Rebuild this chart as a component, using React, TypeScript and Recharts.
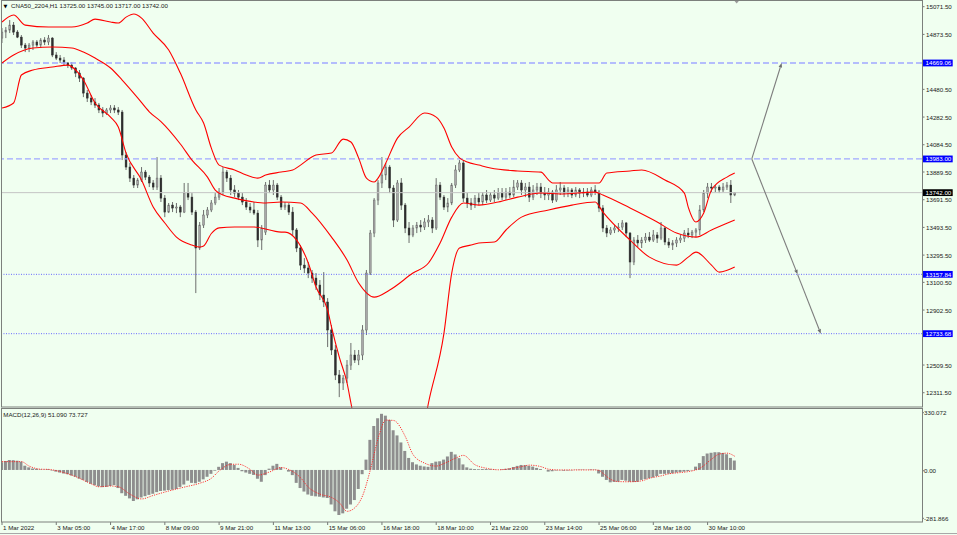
import React from 'react';
import { ComposedChart, Bar, Line, XAxis, YAxis, ReferenceLine, ReferenceDot } from 'recharts';

const FONT = '"Liberation Sans", Arial, Helvetica, sans-serif';
const FS = 6.2;
const TXT = '#1a1a1a';
const BG = '#f0fff0';
const FRAME = '#7c807c';

const X_MAX = 237.3;
const PRICE_MIN = 12202.2;
const PRICE_MAX = 15112.25;
const MACD_MIN = -281.866;
const MACD_MAX = 330.072;

const symbolTitle = 'CNA50_2204,H1 13725.00 13745.00 13717.00 13742.00';
const macdTitle = 'MACD(12,26,9) 51.090 73.727';

const opens = [
  14847,14890,14904,14940,14890,14854,14797,14776,14797,14819,
  14797,14833,14819,14847,14726,14704,14690,14669,14654,14633,
  14597,14561,14454,14418,14390,14368,14333,14311,14333,14347,
  14333,14318,14011,13925,13846,13796,13832,13889,13853,13811,
  13782,13846,13703,13603,13653,13632,13639,13603,13739,13710,
  13603,13346,13510,13582,13618,13668,13710,13746,13889,13846,
  13761,13739,13710,13675,13639,13618,13596,13403,13460,13796,
  13761,13796,13710,13639,13653,13603,13475,13346,13224,13203,
  13167,13131,13081,13010,12960,12760,12617,12438,12381,12416,
  12509,12581,12545,12581,12760,13167,13453,13689,13811,13868,
  13925,13775,13546,13811,13653,13489,13439,13489,13510,13496,
  13532,13546,13489,13796,13710,13639,13668,13796,13904,13954,
  13703,13668,13653,13703,13675,13725,13689,13725,13703,13739,
  13710,13746,13725,13782,13811,13761,13782,13710,13761,13782,
  13739,13725,13746,13689,13761,13775,13739,13761,13725,13761,
  13739,13746,13725,13761,13746,13632,13489,13453,13475,13489,
  13496,13525,13453,13246,13403,13382,13403,13424,13403,13439,
  13417,13489,13389,13367,13382,13403,13417,13453,13439,13460,
  13475,13618,13739,13782,13775,13782,13761,13782,13796,13725,
];
const highs = [
  14919,14926,14976,14962,14904,14869,14812,14812,14833,14833,
  14847,14854,14869,14854,14747,14726,14711,14676,14676,14640,
  14619,14568,14476,14440,14418,14383,14354,14347,14368,14368,
  14354,14333,14032,13954,13868,13846,13925,13904,13868,13832,
  13996,13868,13725,13668,13675,13668,13653,13811,13811,13739,
  13618,13532,13618,13639,13689,13739,13775,13925,13904,13868,
  13796,13761,13739,13703,13668,13675,13618,13510,13818,13832,
  13832,13811,13725,13675,13668,13639,13489,13367,13274,13246,
  13189,13167,13117,13174,12988,12795,12652,12474,12438,12545,
  12667,12617,12617,12795,13189,13475,13703,13832,13996,13954,
  13939,13796,13832,13846,13668,13532,13510,13532,13546,13560,
  13582,13567,13846,13818,13725,13703,13811,13939,13975,13975,
  13739,13703,13725,13739,13746,13761,13746,13761,13775,13775,
  13775,13782,13832,13832,13832,13811,13818,13796,13811,13811,
  13782,13775,13761,13796,13818,13796,13782,13775,13782,13775,
  13775,13775,13782,13796,13761,13653,13510,13496,13510,13525,
  13546,13532,13460,13424,13439,13424,13453,13460,13475,13460,
  13532,13496,13417,13403,13424,13439,13475,13489,13475,13489,
  13653,13761,13811,13811,13796,13796,13811,13818,13832,13745,
];
const lows = [
  14812,14847,14883,14869,14847,14776,14747,14747,14762,14783,
  14776,14797,14797,14711,14690,14669,14654,14633,14619,14568,
  14533,14425,14390,14368,14347,14311,14282,14297,14311,14311,
  14297,13975,13904,13818,13775,13775,13818,13832,13782,13761,
  13761,13675,13567,13596,13603,13596,13567,13596,13689,13582,
  13024,13332,13489,13560,13603,13653,13689,13725,13818,13725,
  13710,13689,13653,13618,13596,13582,13353,13332,13439,13739,
  13725,13689,13618,13618,13582,13439,13317,13189,13167,13131,
  13096,13046,12974,12924,12638,12581,12402,12280,12331,12381,
  12474,12524,12509,12545,12724,13153,13424,13653,13775,13832,
  13739,13496,13532,13618,13453,13382,13424,13453,13460,13475,
  13496,13453,13475,13689,13618,13603,13653,13775,13889,13675,
  13632,13618,13632,13653,13653,13668,13675,13675,13689,13689,
  13689,13703,13710,13761,13725,13710,13675,13689,13725,13703,
  13689,13689,13668,13675,13725,13710,13710,13703,13710,13703,
  13710,13710,13710,13725,13603,13460,13424,13439,13453,13460,
  13475,13424,13131,13224,13353,13346,13382,13389,13389,13382,
  13403,13367,13346,13332,13353,13382,13389,13417,13417,13424,
  13439,13603,13703,13746,13746,13739,13746,13761,13668,13717,
];
const closes = [
  14890,14904,14940,14890,14854,14797,14776,14797,14819,14797,
  14833,14819,14847,14726,14704,14690,14669,14654,14633,14597,
  14561,14454,14418,14390,14368,14333,14311,14333,14347,14333,
  14318,14011,13925,13846,13796,13832,13889,13853,13811,13782,
  13846,13703,13603,13653,13632,13639,13603,13739,13710,13603,
  13346,13510,13582,13618,13668,13710,13746,13889,13846,13761,
  13739,13710,13675,13639,13618,13596,13403,13489,13796,13761,
  13796,13710,13639,13653,13603,13475,13346,13224,13203,13167,
  13131,13081,13010,12960,12760,12617,12438,12381,12416,12509,
  12581,12545,12581,12760,13167,13453,13689,13811,13868,13925,
  13775,13546,13811,13653,13489,13439,13489,13510,13496,13532,
  13546,13489,13796,13710,13639,13668,13796,13904,13954,13703,
  13668,13653,13703,13675,13725,13689,13725,13703,13739,13710,
  13746,13725,13782,13811,13761,13782,13710,13761,13782,13739,
  13725,13746,13689,13761,13775,13739,13761,13725,13761,13739,
  13746,13725,13761,13746,13632,13489,13453,13475,13489,13496,
  13525,13453,13246,13403,13382,13403,13424,13403,13439,13417,
  13489,13389,13367,13382,13403,13417,13453,13439,13460,13475,
  13618,13739,13782,13775,13782,13761,13782,13796,13725,13742,
];
const macdHist = [
  42,49,54,53,50,45,23,14,8,6,
  3,2,4,-3,-9,-14,-19,-23,-30,-37,
  -47,-54,-65,-75,-82,-89,-93,-92,-87,-82,
  -98,-126,-140,-154,-168,-159,-149,-142,-135,-129,
  -120,-114,-112,-109,-107,-103,-92,-79,-58,-70,
  -72,-64,-51,-37,-21,-4,17,37,45,37,
  27,11,-7,-14,-21,-27,-47,-64,-28,7,
  23,33,14,0,-9,-28,-70,-98,-117,-133,
  -140,-143,-145,-149,-152,-187,-224,-244,-235,-210,
  -187,-163,-103,-23,56,163,238,280,304,294,
  271,215,187,149,103,65,42,30,23,19,
  17,37,45,47,56,73,98,84,64,30,
  14,7,5,4,5,5,4,2,0,3,
  6,9,16,22,27,26,22,18,11,5,
  0,-9,-7,-3,-2,-4,-3,-2,1,2,
  2,1,3,2,-19,-37,-54,-67,-65,-64,
  -54,-58,-64,-65,-64,-54,-49,-45,-40,-33,
  -21,-21,-20,-18,-14,-11,-9,-6,-2,18,
  37,75,89,93,96,96,92,85,65,51,
];

// [bar index, value]
const bbUpper: [number, number][] = [
  [0,14962],[3,15012],[6,14940],[12,14926],[18,14926],[22,14955],[24,14983],[28,14962],[30,14955],
  [32,14997],[34,15019],[36,14990],[39,14883],[43,14762],[46,14597],[50,14333],[52,14240],[54,14060],
  [56,13939],[60,13904],[63,13868],[66,13846],[68,13868],[72,13889],[75,13904],[77,13939],[81,14011],
  [85,14025],[88,14125],[90,14104],[92,13989],[94,13846],[96,13818],[97,13846],[99,13954],[102,14132],
  [105,14211],[109,14311],[112,14282],[114,14204],[116,14068],[118,13990],[120,13961],[123,13939],
  [126,13918],[133,13897],[139,13889],[141,13832],[142,13811],[146,13811],[154,13811],[156,13882],
  [162,13897],[165,13904],[171,13832],[176,13739],[177,13639],[179,13532],[181,13596],[183,13761],
  [187,13853],[189,13882],
];
const bbMiddle: [number, number][] = [
  [0,14669],[3,14726],[8,14776],[13,14783],[18,14776],[21,14747],[24,14704],[28,14633],[31,14547],
  [35,14420],[38,14320],[41,14250],[46,14090],[49,13975],[53,13853],[55,13760],[57,13725],[60,13703],
  [65,13675],[68,13668],[72,13675],[77,13668],[80,13596],[85,13424],[89,13260],[92,13096],[96,12995],
  [100,13046],[106,13167],[110,13239],[113,13382],[116,13567],[119,13668],[123,13653],[128,13675],
  [133,13710],[139,13739],[144,13732],[153,13746],[155,13725],[162,13632],[169,13532],[174,13453],
  [179,13424],[183,13475],[189,13546],
];
const bbLower: [number, number][] = [
  [0,14347],[3,14383],[5,14583],[8,14619],[13,14640],[17,14654],[19,14619],[21,14547],[24,14383],
  [28,14282],[30,14211],[32,14025],[36,13832],[39,13639],[42,13525],[45,13424],[49,13367],[51,13353],
  [52,13360],[54,13450],[56,13490],[60,13496],[65,13496],[72,13460],[73,13460],[76,13403],[79,13239],
  [81,13067],[84,12902],[85,12781],[87,12566],[89,12381],[90,12238],[92,11950],[95,11700],[100,11600],
  [105,11700],[108,11950],[110,12238],[114,12738],[116,13167],[118,13346],[121,13367],[123,13382],
  [127,13389],[130,13475],[134,13567],[141,13618],[147,13653],[153,13675],[155,13603],[162,13403],
  [167,13281],[174,13224],[177,13281],[179,13317],[183,13224],[185,13174],[189,13210],
];
const macdSignal: [number, number][] = [
  [0,45],[5,45],[7,21],[10,4],[12,3],[15,-9],[19,-36],[23,-75],[25,-91],[28,-87],[30,-91],[33,-131],
  [36,-157],[39,-138],[43,-114],[47,-93],[51,-72],[54,-45],[56,-5],[59,30],[61,31],[64,3],[66,-28],
  [69,-11],[72,13],[74,2],[77,-42],[79,-93],[82,-131],[85,-149],[87,-177],[89,-224],[91,-205],
  [93,-140],[95,0],[97,170],[99,270],[101,268],[104,182],[106,84],[109,37],[112,21],[114,35],[117,64],
  [119,79],[122,28],[125,9],[128,1],[134,18],[136,26],[139,18],[141,4],[144,0],[153,0],[154,-2],
  [155,-18],[157,-51],[159,-63],[162,-64],[165,-59],[167,-45],[170,-32],[172,-21],[175,-14],[177,-9],
  [180,9],[183,58],[185,86],[187,91],[189,74],
];

const priceTicks = [15071.5, 14873.5, 14480.5, 14282.5, 14084.5, 13889.5, 13691.5, 13493.5, 13295.5, 13100.5, 12902.5, 12509.5, 12311.5];
const dashedLevels = [14669.06, 13983.0];
const dottedLevels = [13157.84, 12733.68];
const lastPrice = 13742.0;
const macdTicks = [MACD_MAX, 0, MACD_MIN];
const dateTickIdx = [0, 14, 28, 42, 56, 70, 84, 98, 112, 126, 140, 154, 168, 182];
const dateLabels = ['1 Mar 2022', '3 Mar 05:00', '4 Mar 17:00', '8 Mar 09:00', '9 Mar 21:00', '11 Mar 13:00', '15 Mar 06:00', '16 Mar 18:00', '18 Mar 10:00', '21 Mar 22:00', '23 Mar 14:00', '25 Mar 06:00', '28 Mar 18:00', '30 Mar 10:00'];
const arrowApex = { x: 193.4, y: 13983.0 };
const arrowUpEnd = { x: 201.1, y: 14669.06 };
const arrowMid = { x: 205.2, y: 13157.84 };
const arrowLowEnd = { x: 211.2, y: 12733.68 };
const shiftMarkIdx = 189.5;

type Row = { i: number; o: number; h: number; l: number; c: number; range: [number, number]; hist: number; bu?: number; bm?: number; bl?: number; sig?: number };
const rows: Row[] = opens.map((o, i) => ({ i, o, h: highs[i], l: lows[i], c: closes[i], range: [lows[i], highs[i]], hist: macdHist[i] }));
bbUpper.forEach(([i, v]) => { rows[i].bu = v; });
bbMiddle.forEach(([i, v]) => { rows[i].bm = v; });
bbLower.forEach(([i, v]) => { rows[i].bl = v; });
macdSignal.forEach(([i, v]) => { rows[i].sig = v; });

const levelSet = [...dashedLevels, ...dottedLevels];

const Candle = (props: any) => {
  const { x, y, width, height, payload } = props;
  if (x == null || y == null || !payload) return null;
  const top = Math.min(y, y + height);
  const bot = Math.max(y, y + height);
  const { o, h, l, c } = payload;
  const span = h - l || 1;
  const py = (p: number) => top + ((h - p) / span) * (bot - top);
  const cx = x + width / 2;
  const b1 = py(Math.max(o, c));
  const b2 = py(Math.min(o, c));
  const up = c >= o;
  return (
    <g>
      <line x1={cx} x2={cx} y1={top} y2={bot} stroke="#5e5e5e" strokeWidth={0.9} />
      <rect x={x} y={b1} width={width} height={Math.max(b2 - b1, 0.7)} fill={up ? '#a8a8a8' : '#2e2e2e'} stroke={up ? '#6a6a6a' : '#2e2e2e'} strokeWidth={0.5} />
    </g>
  );
};

const Arrow = (props: any) => {
  const { x1, y1, x2, y2 } = props;
  if ([x1, y1, x2, y2].some((v) => v == null || isNaN(v))) return null;
  const dx = x2 - x1, dy = y2 - y1;
  const len = Math.hypot(dx, dy) || 1;
  const ux = dx / len, uy = dy / len;
  const hl = 4.5, hw = 1.8;
  const bx = x2 - ux * hl, by = y2 - uy * hl;
  return (
    <g>
      <line x1={x1} y1={y1} x2={bx} y2={by} stroke="#7d7d7d" strokeWidth={1.1} />
      <polygon points={`${x2},${y2} ${bx - uy * hw},${by + ux * hw} ${bx + uy * hw},${by - ux * hw}`} fill="#6e6e6e" />
    </g>
  );
};

const PriceTick = (props: any) => {
  const { x, y, payload } = props;
  const v = payload.value as number;
  const isLevel = levelSet.includes(v);
  const isLast = v === lastPrice;
  const label = v.toFixed(2);
  if (isLevel || isLast) {
    return (
      <g>
        <rect x={x + 0.7} y={y - 3.4} width={30} height={6.8} fill={isLast ? '#000000' : '#0000ff'} />
        <text x={x + 3.5} y={y} dominantBaseline="central" fill="#ffffff" fontSize={FS} fontFamily={FONT}>{label}</text>
      </g>
    );
  }
  return (
    <g>
      <line x1={x} x2={x + 2.5} y1={y} y2={y} stroke="#555" strokeWidth={0.8} />
      <text x={x + 4} y={y} dominantBaseline="central" fill={TXT} fontSize={FS} fontFamily={FONT}>{label}</text>
    </g>
  );
};

const MacdTick = (props: any) => {
  const { x, y, payload } = props;
  const v = payload.value as number;
  const label = v === 0 ? '0.00' : String(v);
  const dy = v === MACD_MAX ? 3.7 : v === MACD_MIN ? -3.7 : 0.8;
  return (
    <g>
      <line x1={x} x2={x + 2} y1={y + dy} y2={y + dy} stroke="#555" strokeWidth={0.8} />
      <text x={x + 2} y={y + dy} dominantBaseline="central" fill={TXT} fontSize={FS} fontFamily={FONT}>{label}</text>
    </g>
  );
};

const DateTick = (props: any) => {
  const { x, y, payload } = props;
  const k = dateTickIdx.indexOf(payload.value);
  return (
    <g>
      <line x1={x} x2={x} y1={y} y2={y + 3} stroke="#555" strokeWidth={0.8} />
      <text x={x + 1} y={y + 5.8} dominantBaseline="central" fill={TXT} fontSize={FS} fontFamily={FONT}>{dateLabels[k]}</text>
    </g>
  );
};

const ShiftMark = (props: any) => {
  const { cx, cy } = props;
  if (cx == null || cy == null) return null;
  return <polygon points={`${cx - 3},${cy - 1} ${cx + 3},${cy - 1} ${cx},${cy + 2.5}`} fill="#9a9a9a" />;
};

export default function App() {
  return (
    <div style={{ position: 'absolute', left: 0, top: 0, width: 957, height: 535, background: BG, overflow: 'hidden' }}>
      <div style={{ position: 'absolute', left: 0, top: 0 }}>
        <ComposedChart width={957} height={408} data={rows} margin={{ top: 1, right: 0, bottom: 0, left: 2 }}>
          <XAxis type="number" dataKey="i" domain={[0, X_MAX]} allowDataOverflow hide />
          <YAxis
            orientation="right"
            width={35}
            type="number"
            domain={[PRICE_MIN, PRICE_MAX]}
            allowDataOverflow
            ticks={[...priceTicks, ...levelSet, lastPrice]}
            interval={0}
            tick={(p: any) => <PriceTick {...p} />}
            tickLine={false}
            axisLine={false}
            tickSize={0}
            tickMargin={0}
          />
          <ReferenceLine y={lastPrice} stroke="#c4c4c4" strokeWidth={1} />
          {dashedLevels.map((v) => (
            <ReferenceLine key={v} y={v} stroke="#a0a8ff" strokeWidth={1.3} strokeDasharray="6 3" />
          ))}
          {dottedLevels.map((v) => (
            <ReferenceLine key={v} y={v} stroke="#5a5aff" strokeWidth={0.9} strokeDasharray="1 1.5" />
          ))}
          <Bar dataKey="range" barSize={1.8} shape={(p: any) => <Candle {...p} />} isAnimationActive={false} />
          <Line type="monotone" dataKey="bu" stroke="#ff0000" strokeWidth={1.1} dot={false} connectNulls isAnimationActive={false} />
          <Line type="monotone" dataKey="bm" stroke="#ff0000" strokeWidth={1.1} dot={false} connectNulls isAnimationActive={false} />
          <Line type="monotone" dataKey="bl" stroke="#ff0000" strokeWidth={1.1} dot={false} connectNulls isAnimationActive={false} />
          <ReferenceLine segment={[arrowApex, arrowUpEnd]} shape={(p: any) => <Arrow {...p} />} />
          <ReferenceLine segment={[arrowApex, arrowMid]} shape={(p: any) => <Arrow {...p} />} />
          <ReferenceLine segment={[arrowMid, arrowLowEnd]} shape={(p: any) => <Arrow {...p} />} />
          <ReferenceDot x={shiftMarkIdx} y={PRICE_MAX} r={3} shape={(p: any) => <ShiftMark {...p} />} />
        </ComposedChart>
      </div>
      <div style={{ position: 'absolute', left: 0, top: 408 }}>
        <ComposedChart width={957} height={127} data={rows} margin={{ top: 1, right: 0, bottom: 0, left: 2 }}>
          <XAxis
            type="number"
            dataKey="i"
            domain={[0, X_MAX]}
            allowDataOverflow
            ticks={dateTickIdx}
            interval={0}
            height={13}
            tick={(p: any) => <DateTick {...p} />}
            tickLine={false}
            axisLine={false}
            tickSize={0}
            tickMargin={0}
          />
          <YAxis
            orientation="right"
            width={35}
            type="number"
            domain={[MACD_MIN, MACD_MAX]}
            allowDataOverflow
            ticks={macdTicks}
            interval={0}
            tick={(p: any) => <MacdTick {...p} />}
            tickLine={false}
            axisLine={false}
            tickSize={0}
            tickMargin={0}
          />
          <Bar dataKey="hist" fill="#8e8e8e" barSize={3} isAnimationActive={false} />
          <Line type="monotone" dataKey="sig" stroke="#ff2020" strokeWidth={0.9} strokeDasharray="1.2 1.2" dot={false} connectNulls isAnimationActive={false} />
        </ComposedChart>
      </div>
      <svg width={957} height={535} style={{ position: 'absolute', left: 0, top: 0, pointerEvents: 'none' }}>
        <rect x={1.5} y={0.5} width={921} height={406.5} fill="none" stroke={FRAME} strokeWidth={1} />
        <rect x={1.5} y={408.5} width={921} height={113.5} fill="none" stroke={FRAME} strokeWidth={1} />
        <line x1={0} x2={957} y1={533.5} y2={533.5} stroke="#a8a8a8" strokeWidth={1} />
        <text x={3.5} y={5.8} dominantBaseline="central" fontSize={5} fontFamily='"DejaVu Sans", sans-serif' fill="#000">▼</text>
        <text x={11} y={5.8} dominantBaseline="central" fontSize={FS} fontFamily={FONT} fill={TXT}>{symbolTitle}</text>
        <text x={3.3} y={414} dominantBaseline="central" fontSize={FS} fontFamily={FONT} fill={TXT}>{macdTitle}</text>
      </svg>
    </div>
  );
}
